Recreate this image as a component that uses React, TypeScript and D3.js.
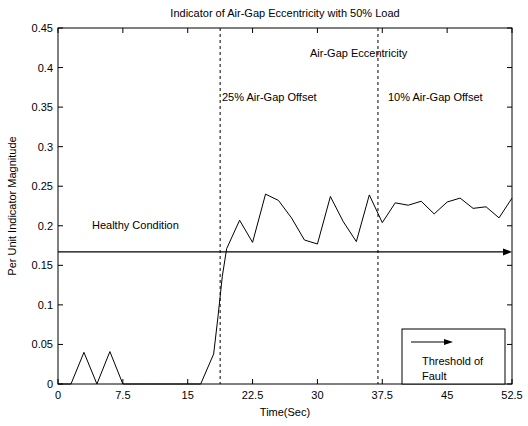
import * as d3 from "d3";

const times = [0, 1.5, 3, 4.5, 6, 7.5, 9, 10.5, 12, 13.5, 15, 16.5, 18, 18.5, 19, 19.5, 21, 22.5, 24, 25.5, 27, 28.5, 30, 31.5, 33, 34.5, 36, 37.5, 39, 40.5, 42, 43.5, 45, 46.5, 48, 49.5, 51, 52.5];
const magnitude = [0, 0, 0.04, 0, 0.041, 0, 0, 0, 0, 0, 0, 0, 0.038, 0.085, 0.136, 0.171, 0.207, 0.179, 0.24, 0.232, 0.21, 0.182, 0.177, 0.237, 0.205, 0.18, 0.239, 0.204, 0.229, 0.226, 0.231, 0.215, 0.23, 0.235, 0.222, 0.224, 0.21, 0.235];
const xTicks = [0, 7.5, 15, 22.5, 30, 37.5, 45, 52.5];
const yTicks = [0, 0.05, 0.1, 0.15, 0.2, 0.25, 0.3, 0.35, 0.4, 0.45];
const threshold = 0.167;
const faultLines = [18.75, 37];

const W = 528;
const H = 426;
const margin = { left: 58, right: 16, top: 28, bottom: 42 };
const font = "'Liberation Sans', Arial, sans-serif";

export default function App() {
  const x = d3.scaleLinear().domain([0, 52.5]).range([margin.left, W - margin.right]);
  const y = d3.scaleLinear().domain([0, 0.45]).range([H - margin.bottom, margin.top]);
  const [x0, x1] = x.range();
  const [y0, y1] = y.range();

  const line = d3.line<number>()
    .x((d, i) => x(times[i]))
    .y((d) => y(d));

  const ty = y(threshold);

  return (
    <svg width={W} height={H} style={{ position: "absolute", left: 0, top: 0, background: "#fff" }} fontFamily={font} fontSize={11}>
      <rect x={0} y={0} width={W} height={H} fill="#fff" />
      {/* frame */}
      <rect x={x0} y={y1} width={x1 - x0} height={y0 - y1} fill="none" stroke="#000" strokeWidth={1} />
      {/* ticks */}
      {xTicks.map((t) => (
        <g key={"x" + t}>
          <line x1={x(t)} x2={x(t)} y1={y0} y2={y0 - 5} stroke="#000" />
          <line x1={x(t)} x2={x(t)} y1={y1} y2={y1 + 5} stroke="#000" />
          <text x={x(t)} y={y0 + 15} textAnchor="middle">{t}</text>
        </g>
      ))}
      {yTicks.map((t) => (
        <g key={"y" + t}>
          <line x1={x0} x2={x0 + 5} y1={y(t)} y2={y(t)} stroke="#000" />
          <line x1={x1} x2={x1 - 5} y1={y(t)} y2={y(t)} stroke="#000" />
          <text x={x0 - 5} y={y(t) + 4} textAnchor="end">{t}</text>
        </g>
      ))}
      {/* fault boundaries */}
      {faultLines.map((f) => (
        <line key={"f" + f} x1={x(f)} x2={x(f)} y1={y1} y2={y0} stroke="#000" strokeDasharray="3,3" />
      ))}
      {/* data */}
      <path d={line(magnitude) || ""} fill="none" stroke="#000" strokeWidth={1} />
      {/* threshold arrow */}
      <line x1={x0} x2={x1 - 8} y1={ty} y2={ty} stroke="#000" strokeWidth={1.2} />
      <path d={`M${x1 - 9},${ty - 3.5} L${x1},${ty} L${x1 - 9},${ty + 3.5} Z`} fill="#000" />
      {/* annotations */}
      <text x={(x0 + x1) / 2} y={17} textAnchor="middle">Indicator of Air-Gap Eccentricity with 50% Load</text>
      <text x={310} y={57}>Air-Gap Eccentricity</text>
      <text x={222} y={101}>25% Air-Gap Offset</text>
      <text x={388} y={101}>10% Air-Gap Offset</text>
      <text x={92} y={229}>Healthy Condition</text>
      <text x={(x0 + x1) / 2} y={H - 10} textAnchor="middle">Time(Sec)</text>
      <text transform={`translate(16,${(y0 + y1) / 2}) rotate(-90)`} textAnchor="middle">Per Unit Indicator Magnitude</text>
      {/* legend box */}
      <rect x={402} y={329} width={103} height={y0 - 329} fill="#fff" stroke="#000" />
      <line x1={411} x2={446} y1={342} y2={342} stroke="#000" />
      <path d="M444,339 L453,342 L444,345 Z" fill="#000" />
      <text x={422} y={365}>Threshold of</text>
      <text x={422} y={380}>Fault</text>
    </svg>
  );
}
